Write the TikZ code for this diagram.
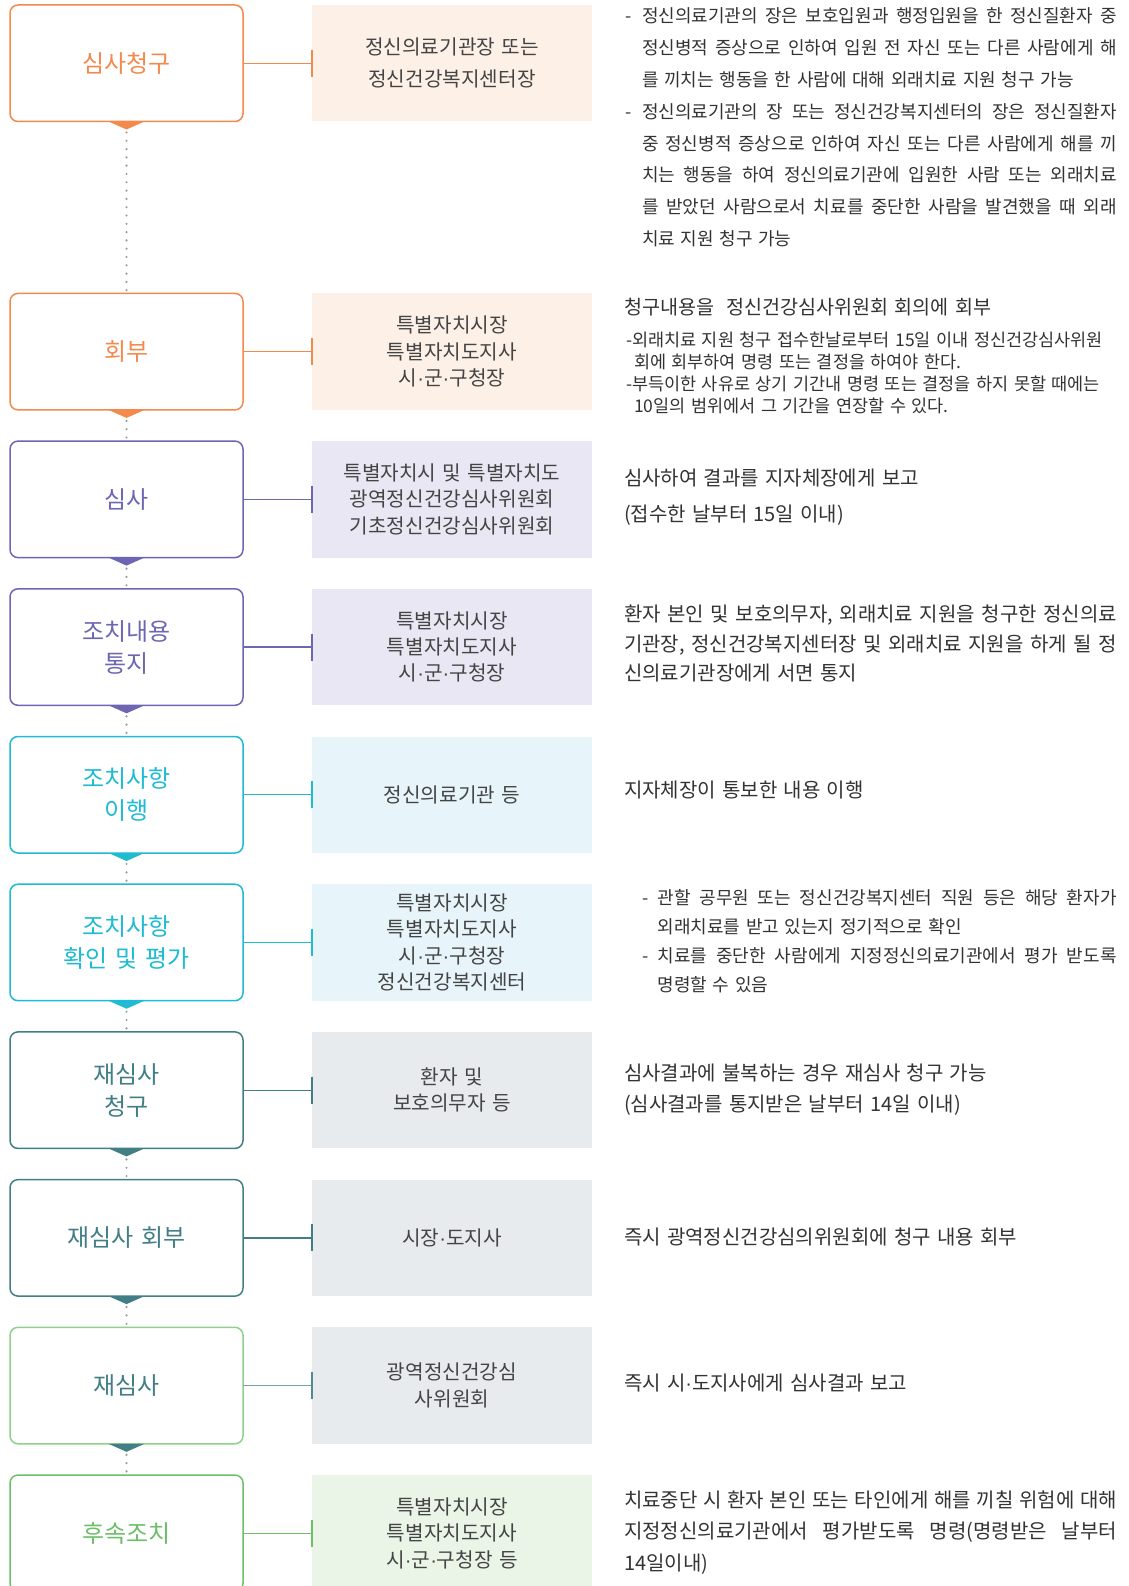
\documentclass[tikz,border=0pt]{standalone}
\usepackage{fontspec}
\newfontfamily\lfont{Noto Sans CJK KR}[WordSpace=1.3]
\newfontfamily\mfont{Noto Sans CJK KR}[WordSpace=1.3]
\newfontfamily\rfont{Noto Sans CJK KR}[WordSpace=1.4]
\newfontfamily\dotfont{Liberation Sans}
\newcommand\md{{\dotfont ·}}
\definecolor{orB}{HTML}{F4894E}\definecolor{orT}{HTML}{F4894E}\definecolor{orL}{HTML}{F4894E}
\definecolor{orK}{HTML}{F4894E}\definecolor{orA}{HTML}{F4894E}\definecolor{orF}{HTML}{FDF0E7}
\definecolor{puB}{HTML}{6D66B3}\definecolor{puT}{HTML}{6D66B3}\definecolor{puL}{HTML}{6D66B3}
\definecolor{puK}{HTML}{6D66B3}\definecolor{puA}{HTML}{6D66B3}\definecolor{puF}{HTML}{E9E7F3}
\definecolor{cyB}{HTML}{1EBBD3}\definecolor{cyT}{HTML}{1EBBD3}\definecolor{cyL}{HTML}{1EBBD3}
\definecolor{cyK}{HTML}{1EBBD3}\definecolor{cyA}{HTML}{1EBBD3}\definecolor{cyF}{HTML}{E7F5FA}
\definecolor{teB}{HTML}{417E86}\definecolor{teT}{HTML}{417E86}\definecolor{teL}{HTML}{417E86}
\definecolor{teK}{HTML}{417E86}\definecolor{teA}{HTML}{417E86}\definecolor{teF}{HTML}{E8EBED}
\definecolor{tgB}{HTML}{8FD08A}\definecolor{tgT}{HTML}{417E86}\definecolor{tgL}{HTML}{6FA3A9}
\definecolor{tgK}{HTML}{4F8A92}\definecolor{tgA}{HTML}{417E86}\definecolor{tgF}{HTML}{E8EBED}
\definecolor{grB}{HTML}{6CC067}\definecolor{grT}{HTML}{6DBE68}\definecolor{grL}{HTML}{6CC067}
\definecolor{grK}{HTML}{6CC067}\definecolor{grA}{HTML}{6CC067}\definecolor{grF}{HTML}{EAF4E7}
\definecolor{midT}{HTML}{444444}
\definecolor{txt}{HTML}{333333}
\definecolor{dotC}{HTML}{9B9B9B}
\tikzset{
  lbox/.style={rectangle, rounded corners=8pt, line width=1.5pt, minimum width=233pt,
    minimum height=116.5pt, inner sep=0pt, outer sep=0pt, align=center, fill=white,
    font=\lfont\fontsize{24}{32}\selectfont},
  mbox/.style={rectangle, minimum width=280pt, minimum height=116.5pt, inner sep=0pt,
    outer sep=0pt, align=center, text=midT, font=\mfont\fontsize{20.2}{26.3}\selectfont},
  rtext/.style={anchor=west, inner sep=0pt, outer sep=0pt, text=txt,
    text height=15pt, text depth=1.4pt, font=\rfont\fontsize{20}{22}\selectfont},
  rsmall/.style={rtext, font=\rfont\fontsize{18}{20}\selectfont},
  rhead/.style={rtext, font=\rfont\fontsize{19.6}{22}\selectfont},
  rsub/.style={rtext, font=\rfont\fontsize{17.5}{20}\selectfont},
  dotline/.style={draw=dotC, line width=2.4pt, line cap=round, dash pattern=on 0pt off 8.3pt}
}
\newcommand\flowrow[6]{%
  \node[lbox, draw=#3B, text=#3T] (L#1) at (126.5,#2+58.25) {#4};
  \node[mbox, fill=#3F, #6] (M#1) at (452,#2+58.25) {#5};
  \draw[line width=1.3pt, #3L] (L#1.east) -- (M#1.west);
  \draw[line width=2.8pt, #3K] ([yshift=13.5pt]M#1.west) -- ([yshift=-13.5pt]M#1.west);
  \fill[#3A] ([xshift=-18pt]L#1.south) -- ([xshift=18pt]L#1.south) -- ([yshift=-8pt]L#1.south) -- cycle;
}
\begin{document}
\begin{tikzpicture}[x=1pt,y=-1pt]
\useasboundingbox (0,0) rectangle (1128,1586);
\clip (0,0) rectangle (1128,1586);
\fill[white] (0,0) rectangle (1128,1586);

\flowrow{1}{5}{or}{심사청구}{정신의료기관장 또는\\정신건강복지센터장}{font=\mfont\fontsize{20.2}{32}\selectfont}
\flowrow{2}{293.4}{or}{회부}{특별자치시장\\특별자치도지사\\시\md 군\md 구청장}{}
\flowrow{3}{441.1}{pu}{심사}{특별자치시 및 특별자치도\\광역정신건강심사위원회\\기초정신건강심사위원회}{}
\flowrow{4}{588.8}{pu}{조치내용\\통지}{특별자치시장\\특별자치도지사\\시\md 군\md 구청장}{}
\flowrow{5}{736.5}{cy}{조치사항\\이행}{정신의료기관 등}{}
\flowrow{6}{884.2}{cy}{조치사항\\확인 및 평가}{특별자치시장\\특별자치도지사\\시\md 군\md 구청장\\정신건강복지센터}{}
\flowrow{7}{1031.9}{te}{재심사\\청구}{환자 및\\보호의무자 등}{}
\flowrow{8}{1179.6}{te}{재심사 회부}{시장\md 도지사}{}
\flowrow{9}{1327.3}{tg}{재심사}{광역정신건강심\\사위원회}{}
\flowrow{10}{1475}{gr}{후속조치}{특별자치시장\\특별자치도지사\\시\md 군\md 구청장 등}{}

\foreach \a/\b in {1/2,2/3,3/4,4/5,5/6,6/7,7/8,8/9,9/10}
  \draw[dotline] ([yshift=-11pt]L\a.south) -- ([yshift=2pt]L\b.north);

% row 1 texts
\node[rsmall] (r1d1) at (625,16.2) {-};
\node[rsmall] (r1a) at (642,16.2) {\makebox[475pt][s]{정신의료기관의 장은 보호입원과 행정입원을 한 정신질환자 중}};
\node[rsmall] (r1b) at (642,48) {\makebox[475pt][s]{정신병적 증상으로 인하여 입원 전 자신 또는 다른 사람에게 해}};
\node[rsmall] (r1c) at (642,79.8) {를 끼치는 행동을 한 사람에 대해 외래치료 지원 청구 가능};
\node[rsmall] (r1d2) at (625,111.6) {-};
\node[rsmall] (r1e) at (642,111.6) {\makebox[475pt][s]{정신의료기관의 장 또는 정신건강복지센터의 장은 정신질환자}};
\node[rsmall] (r1f) at (642,143.4) {\makebox[475pt][s]{중 정신병적 증상으로 인하여 자신 또는 다른 사람에게 해를 끼}};
\node[rsmall] (r1g) at (642,175.2) {\makebox[475pt][s]{치는 행동을 하여 정신의료기관에 입원한 사람 또는 외래치료}};
\node[rsmall] (r1h) at (642,207) {\makebox[475pt][s]{를 받았던 사람으로서 치료를 중단한 사람을 발견했을 때 외래}};
\node[rsmall] (r1i) at (642,238.8) {치료 지원 청구 가능};

% row 2 texts
\node[rhead] (r2a) at (624,307.6) {청구내용을~ 정신건강심사위원회 회의에 회부};
\node[rsub] (r2b) at (626,340) {-외래치료 지원 청구 접수한날로부터 15일 이내 정신건강심사위원};
\node[rsub] (r2c) at (634,361.5) {회에 회부하여 명령 또는 결정을 하여야 한다.};
\node[rsub] (r2d) at (626,383.4) {-부득이한 사유로 상기 기간내 명령 또는 결정을 하지 못할 때에는};
\node[rsub] (r2e) at (634,405.5) {10일의 범위에서 그 기간을 연장할 수 있다.};

% row 3 texts
\node[rtext] (r3a) at (624,478.5) {심사하여 결과를 지자체장에게 보고};
\node[rtext] (r3b) at (624,515) {(접수한 날부터 15일 이내)};

% row 4 texts
\node[rtext] (r4a) at (624,614.5) {\makebox[493pt][s]{환자 본인 및 보호의무자, 외래치료 지원을 청구한 정신의료}};
\node[rtext] (r4b) at (624,644.5) {\makebox[493pt][s]{기관장, 정신건강복지센터장 및 외래치료 지원을 하게 될 정}};
\node[rtext] (r4c) at (624,674) {신의료기관장에게 서면 통지};

% row 5 text
\node[rtext] (r5a) at (624,791) {지자체장이 통보한 내용 이행};

% row 6 texts
\node[rsmall] (r6d1) at (642.5,897.4) {-};
\node[rsmall] (r6a) at (657.6,897.4) {\makebox[459pt][s]{관할 공무원 또는 정신건강복지센터 직원 등은 해당 환자가}};
\node[rsmall] (r6b) at (657.6,926.7) {외래치료를 받고 있는지 정기적으로 확인};
\node[rsmall] (r6d2) at (642.5,955.5) {-};
\node[rsmall] (r6c) at (657.6,955.5) {\makebox[459pt][s]{치료를 중단한 사람에게 지정정신의료기관에서 평가 받도록}};
\node[rsmall] (r6e) at (657.6,984.4) {명령할 수 있음};

% row 7 texts
\node[rtext] (r7a) at (624,1073.4) {심사결과에 불복하는 경우 재심사 청구 가능};
\node[rtext] (r7b) at (624,1104.8) {(심사결과를 통지받은 날부터 14일 이내)};

% row 8, 9 texts
\node[rtext] (r8a) at (624,1237.3) {즉시 광역정신건강심의위원회에 청구 내용 회부};
\node[rtext] (r9a) at (624,1384) {즉시 시\md 도지사에게 심사결과 보고};

% row 10 texts
\node[rtext] (r10a) at (624,1500.3) {\makebox[493pt][s]{치료중단 시 환자 본인 또는 타인에게 해를 끼칠 위험에 대해}};
\node[rtext] (r10b) at (624,1531.7) {\makebox[493pt][s]{지정정신의료기관에서 평가받도록 명령(명령받은 날부터}};
\node[rtext] (r10c) at (624,1564.1) {14일이내)};
\end{tikzpicture}
\end{document}
